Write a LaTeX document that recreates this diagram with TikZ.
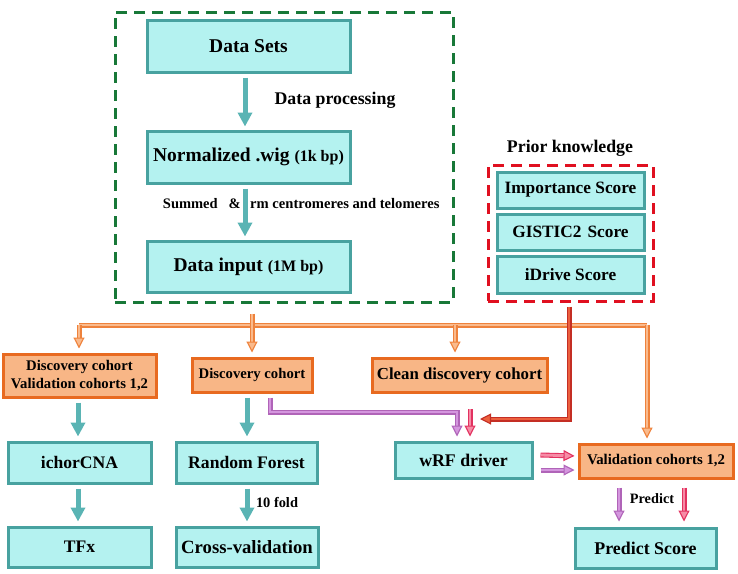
\documentclass[tikz,border=0pt]{standalone}
\usepackage{fontspec}
\setmainfont{Liberation Serif}
\usetikzlibrary{arrows.meta,calc}
\definecolor{tfill}{RGB}{180,242,240}
\definecolor{tdraw}{RGB}{72,162,160}
\definecolor{tarrow}{RGB}{90,180,180}
\definecolor{ofill}{RGB}{248,182,134}
\definecolor{odraw}{RGB}{232,106,32}
\definecolor{oline}{RGB}{238,130,60}
\definecolor{olight}{RGB}{250,186,140}
\definecolor{gdash}{RGB}{24,120,56}
\definecolor{rdash}{RGB}{224,16,32}
\definecolor{rline}{RGB}{196,46,36}
\definecolor{rlight}{RGB}{236,96,62}
\definecolor{pline}{RGB}{176,100,184}
\definecolor{plight}{RGB}{212,150,222}
\definecolor{kline}{RGB}{226,50,96}
\definecolor{klight}{RGB}{246,140,166}
\newcommand{\fs}[1]{\fontsize{#1}{#1}\selectfont}
\tikzset{
  tbox/.style={draw=tdraw, fill=tfill, line width=3pt, font=\bfseries\fs{19.5}, inner sep=1pt},
  obox/.style={draw=odraw, fill=ofill, line width=3pt, font=\bfseries\fs{14.7}, inner sep=1pt},
  tarr/.style={draw=tarrow, line width=5pt, -{Triangle[length=14pt,width=14pt]}},
  dblarr/.style 2 args={draw=#1, double=#2, line width=1.1pt, double distance=2.8pt, -{Triangle[length=11pt,width=11pt,fill=#2,line width=1.1pt]}},
  dblline/.style 2 args={draw=#1, double=#2, line width=1.1pt, double distance=2.8pt},
  lbl/.style={font=\bfseries\fs{14}, inner sep=0pt},
  gdashed/.style={dash pattern=on 11pt off 7pt, line width=3pt},
}
\begin{document}
\begin{tikzpicture}[x=1pt,y=-1pt]
\useasboundingbox (0,0) rectangle (738,573);
% green dashed region
\node[draw=gdash, gdashed, minimum width=338, minimum height=290] (green) at (284,157) {};
\node[tbox, minimum width=203, minimum height=52] (ds) at (248.5,46) {Data Sets};
\node[tbox, minimum width=203, minimum height=52] (norm) at (248.5,157) {Normalized .wig {\fs{16}(1k bp)}};
\node[tbox, minimum width=203, minimum height=51] (inp) at (248.5,266.5) {Data input {\fs{16}(1M bp)}};
\coordinate (xa) at (245,0);
\coordinate (xb) at (78,0);
\coordinate (xc) at (247,0);
\coordinate (xd) at (619,0);
\coordinate (xe) at (684,0);
\draw[tarr, shorten <=4pt, shorten >=3pt] (ds.south -| xa) -- (norm.north -| xa);
\node[lbl, font=\bfseries\fs{17.8}] (dp) at (335,100) {Data processing};
\draw[tarr, shorten <=4pt, shorten >=3pt] (norm.south -| xa) -- (inp.north -| xa);
\node[lbl, font=\bfseries\fs{14.5}, anchor=east] (sum) at (241,204) {Summed\hspace{11pt}\&};
\node[lbl, font=\bfseries\fs{14.6}, anchor=west] (rm) at (250,204) {rm centromeres and telomeres};
% prior knowledge
\node[lbl, font=\bfseries\fs{17.8}] (pk) at (570,148) {Prior knowledge};
\node[draw=rdash, gdashed, minimum width=165, minimum height=136] (red) at (570.5,233) {};
\node[tbox, minimum width=147, minimum height=36, font=\bfseries\fs{17.3}] (imp) at (570.5,190) {Importance Score};
\node[tbox, minimum width=147, minimum height=36, font=\bfseries\fs{17.3}] (gis) at (570.5,232) {GISTIC2\hspace{6pt}Score};
\node[tbox, minimum width=147, minimum height=37, font=\bfseries\fs{17.3}] (idr) at (570.5,274.5) {iDrive Score};
% cohorts
\node[obox, minimum width=153, minimum height=43, align=center, font=\bfseries\fontsize{14.7}{18}\selectfont] (o1) at (79.5,375.5) {Discovery cohort\\Validation cohorts 1,2};
\node[obox, minimum width=120, minimum height=34] (o2) at (252,375) {Discovery cohort};
\node[obox, minimum width=175, minimum height=34, font=\bfseries\fs{16.8}] (o3) at (459.5,375) {Clean discovery cohort};
\node[obox, minimum width=154, minimum height=34, font=\bfseries\fs{14.8}] (val) at (656,461) {Validation cohorts 1,2};
% lower teal boxes
\node[tbox, minimum width=143, minimum height=41, font=\bfseries\fs{17.6}] (ich) at (79.5,462.5) {ichorCNA};
\node[tbox, minimum width=143, minimum height=40, font=\bfseries\fs{17.6}] (tfx) at (79.5,547) {TFx};
\node[tbox, minimum width=141, minimum height=41, font=\bfseries\fs{17.6}] (rf) at (246.5,462.5) {Random Forest};
\node[tbox, minimum width=142, minimum height=40, font=\bfseries\fs{18.7}] (cv) at (247,547) {Cross-validation};
\node[tbox, minimum width=137, minimum height=36, font=\bfseries\fs{17.8}] (wrf) at (463.5,460) {wRF driver};
\node[tbox, minimum width=141, minimum height=40, font=\bfseries\fs{17.9}] (ps) at (645.5,548) {Predict Score};
% teal arrows
\draw[tarr, shorten <=4pt, shorten >=4pt] (o1.south -| xb) -- (ich.north -| xb);
\draw[tarr, shorten <=4pt, shorten >=4pt] (ich.south -| xb) -- (tfx.north -| xb);
\draw[tarr, shorten <=4pt, shorten >=4pt] (o2.south -| xc) -- (rf.north -| xc);
\draw[tarr, shorten <=4pt, shorten >=4pt] (rf.south -| xc) -- (cv.north -| xc);
\node[lbl, font=\bfseries\fs{14.4}] (tf) at (277,502) {10 fold};
% orange distribution
\coordinate (busL) at (79,325);
\coordinate (busR) at (647,325);
\coordinate (busM) at (252,325);
\coordinate (busC) at (455,325);
\draw[dblline={oline}{olight}] (busL) -- (busR);
\draw[dblline={oline}{olight}] ([yshift=-10pt]green.south -| busM) -- (busM);
\draw[dblarr={oline}{olight}, shorten >=4pt] (busL) -- (busL |- o1.north);
\draw[dblarr={oline}{olight}, shorten >=4pt] (busM) -- (busM |- o2.north);
\draw[dblarr={oline}{olight}, shorten >=4pt] (busC) -- (busC |- o3.north);
\draw[dblarr={oline}{olight}, shorten >=4pt] (busR) -- (busR |- val.north);
% red arrow from prior knowledge
\coordinate (rturn) at (569,419);
\coordinate (rtip) at (480,419);
\draw[dblarr={rline}{rlight}] ([yshift=-4pt]red.south -| rturn) -- (rturn) -- (rtip);
% purple L arrow
\coordinate (p1) at (270,412);
\coordinate (p2) at (457,412);
\draw[dblarr={pline}{plight}, shorten >=4pt] ([yshift=-4pt]o2.south -| p1) -- (p1) -- (p2) -- (p2 |- wrf.north);
\coordinate (k1) at (470,409);
\draw[dblarr={kline}{klight}, shorten >=4pt] (k1) -- (k1 |- wrf.north);
% wRF to validation
\draw[dblarr={kline}{klight}, shorten >=3pt] ([xshift=7pt,yshift=5pt]wrf.east) -- ([yshift=5pt]val.west);
\draw[dblarr={pline}{plight}, shorten >=3pt] ([xshift=7pt,yshift=-10pt]wrf.east) -- ([yshift=-9pt]val.west);
% validation to predict score
\draw[dblarr={pline}{plight}, shorten <=8pt, shorten >=5pt] (val.south -| xd) -- (ps.north -| xd);
\draw[dblarr={kline}{klight}, shorten <=8pt, shorten >=5pt] (val.south -| xe) -- (ps.north -| xe);
\node[lbl, font=\bfseries\fs{14.3}] (pr) at (652,499) {Predict};
\end{tikzpicture}
\end{document}
